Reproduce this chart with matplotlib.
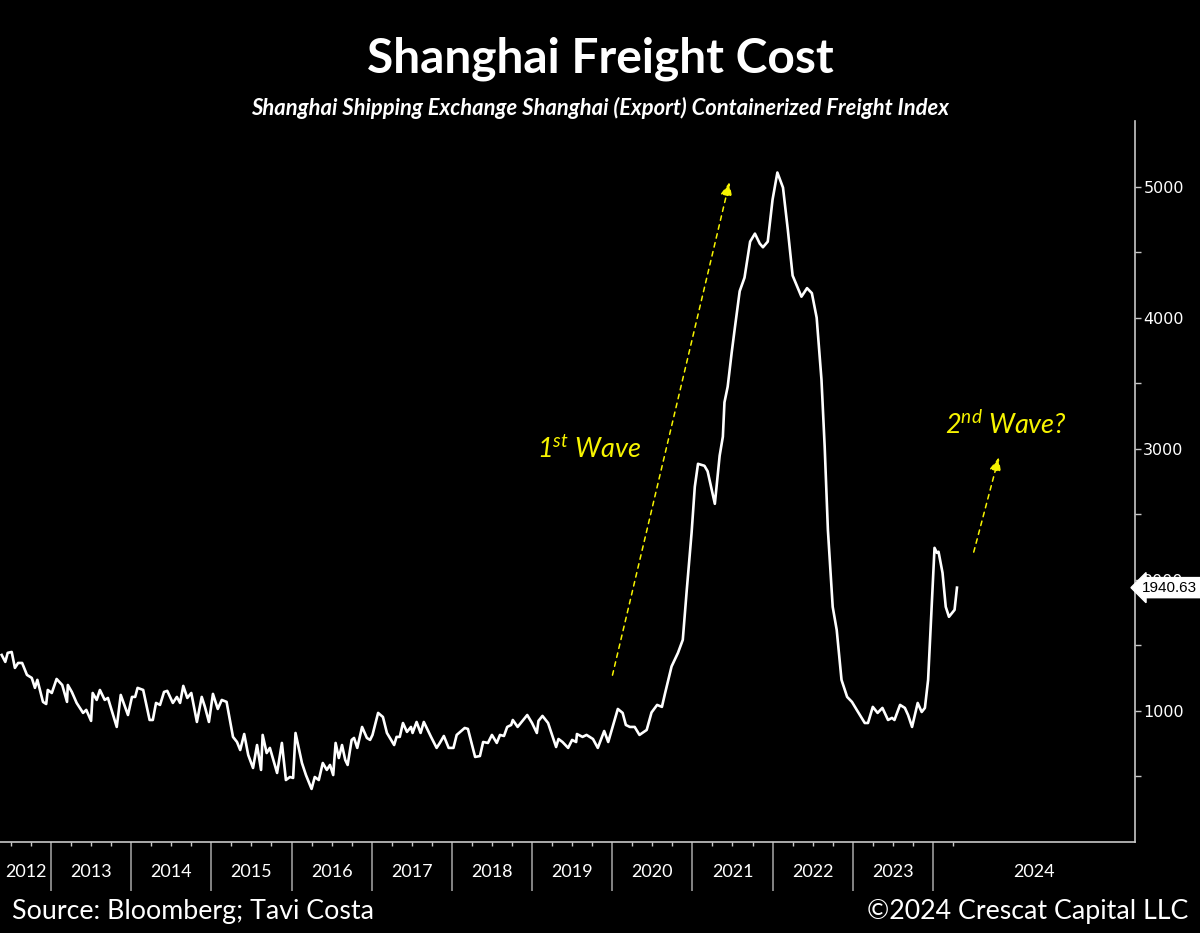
import matplotlib
matplotlib.use("Agg")
import matplotlib.pyplot as plt
import matplotlib.transforms as mtransforms
import numpy as np

# ---- data (decimal year, index value) ----
years = [2012.385, 2012.43, 2012.46, 2012.51, 2012.55, 2012.59, 2012.64, 2012.70, 2012.76, 2012.80,
         2012.83, 2012.90, 2012.94, 2012.96, 2013.01, 2013.07, 2013.14, 2013.20, 2013.21, 2013.26,
         2013.32, 2013.40, 2013.44, 2013.50, 2013.52, 2013.57, 2013.61, 2013.67, 2013.71, 2013.82,
         2013.87, 2013.96, 2014.01, 2014.05, 2014.08, 2014.15, 2014.23, 2014.27, 2014.31, 2014.36,
         2014.41, 2014.45, 2014.52, 2014.57, 2014.61, 2014.65, 2014.70, 2014.75, 2014.82, 2014.88,
         2014.92, 2014.97, 2015.02, 2015.08, 2015.13, 2015.19, 2015.27, 2015.32, 2015.36, 2015.41,
         2015.46, 2015.52, 2015.57, 2015.62, 2015.64, 2015.69, 2015.73, 2015.82, 2015.88, 2015.93,
         2015.98, 2016.02, 2016.05, 2016.13, 2016.18, 2016.25, 2016.29, 2016.34, 2016.39, 2016.44,
         2016.48, 2016.52, 2016.55, 2016.59, 2016.63, 2016.67, 2016.70, 2016.75, 2016.78, 2016.82,
         2016.88, 2016.94, 2016.98, 2017.01, 2017.08, 2017.14, 2017.19, 2017.28, 2017.31, 2017.35,
         2017.39, 2017.44, 2017.49, 2017.51, 2017.56, 2017.61, 2017.65, 2017.74, 2017.81, 2017.85,
         2017.90, 2017.96, 2018.02, 2018.06, 2018.16, 2018.20, 2018.29, 2018.35, 2018.39, 2018.45,
         2018.50, 2018.56, 2018.60, 2018.65, 2018.69, 2018.74, 2018.76, 2018.82, 2018.94, 2019.00,
         2019.06, 2019.08, 2019.13, 2019.20, 2019.30, 2019.33, 2019.38, 2019.45, 2019.50, 2019.55,
         2019.56, 2019.63, 2019.68, 2019.76, 2019.82, 2019.90, 2019.95, 2020.07, 2020.13, 2020.17,
         2020.22, 2020.28, 2020.34, 2020.43, 2020.49, 2020.56, 2020.62, 2020.66, 2020.74, 2020.82,
         2020.88, 2020.93, 2020.99, 2021.03, 2021.07, 2021.15, 2021.19, 2021.28, 2021.34, 2021.38,
         2021.40, 2021.44, 2021.49, 2021.53, 2021.59, 2021.65, 2021.72, 2021.78, 2021.84, 2021.88,
         2021.94, 2022.00, 2022.06, 2022.13, 2022.19, 2022.25, 2022.36, 2022.43, 2022.49, 2022.55,
         2022.61, 2022.65, 2022.69, 2022.75, 2022.80, 2022.86, 2022.93, 2022.99, 2023.05, 2023.15,
         2023.19, 2023.25, 2023.31, 2023.37, 2023.44, 2023.49, 2023.52, 2023.59, 2023.65, 2023.69,
         2023.74, 2023.81, 2023.86, 2023.90, 2023.94, 2023.98, 2024.02, 2024.05, 2024.07, 2024.12,
         2024.16, 2024.20, 2024.27, 2024.30]
values = [1427, 1374, 1443, 1450, 1328, 1366, 1366, 1275, 1252, 1176,
          1237, 1069, 1053, 1160, 1137, 1244, 1198, 1069, 1198, 1145,
          1061, 985, 1008, 924, 1137, 1084, 1160, 1084, 1099, 878,
          1122, 969, 1107, 1107, 1176, 1160, 931, 931, 1061, 1046,
          1145, 1153, 1061, 1107, 1061, 1191, 1099, 1137, 916, 1107,
          1031, 916, 1130, 1015, 1084, 1069, 802, 763, 702, 824,
          664, 565, 740, 550, 817, 679, 718, 527, 756, 473,
          496, 489, 832, 603, 511, 405, 496, 473, 603, 550,
          588, 511, 756, 641, 740, 626, 588, 779, 794, 718,
          878, 794, 779, 817, 985, 954, 832, 740, 802, 802,
          908, 840, 878, 832, 916, 832, 916, 802, 718, 756,
          809, 718, 718, 817, 870, 863, 649, 656, 763, 756,
          817, 756, 817, 809, 878, 893, 931, 878, 969, 908,
          832, 924, 962, 908, 725, 786, 763, 718, 779, 763,
          824, 802, 817, 786, 718, 847, 763, 1015, 985, 893,
          878, 878, 817, 855, 988, 1046, 1031, 1137, 1339, 1443,
          1542, 1924, 2359, 2710, 2885, 2870, 2828, 2580, 2947, 3092,
          3354, 3473, 3733, 3924, 4202, 4305, 4580, 4641, 4565, 4537,
          4580, 4901, 5107, 4992, 4672, 4321, 4160, 4225, 4187, 4000,
          3527, 3015, 2382, 1794, 1618, 1237, 1107, 1069, 1008, 908,
          908, 1031, 985, 1023, 931, 947, 931, 1046, 1023, 969,
          878, 1061, 992, 1023, 1237, 1748, 2244, 2206, 2214, 2053,
          1794, 1718, 1771, 1940.63]

year_labels = ["2012", "2013", "2014", "2015", "2016", "2017", "2018",
               "2019", "2020", "2021", "2022", "2023", "2024"]
y_ticks = [1000, 2000, 3000, 4000, 5000]
last_value = 1940.63

title = "Shanghai Freight Cost"
subtitle = "Shanghai Shipping Exchange Shanghai (Export) Containerized Freight Index"
source = "Source: Bloomberg; Tavi Costa"
copyright_txt = "\u00a92024 Crescat Capital LLC"

# ---- style ----
plt.rcParams['mathtext.fontset'] = 'custom'
plt.rcParams['mathtext.it'] = 'Lato:italic'
plt.rcParams['mathtext.rm'] = 'Lato:italic'

BG = "black"
AX_COL = "#c8c8c8"
YEL = "#f7f400"

fig = plt.figure(figsize=(12, 9.33), dpi=100, facecolor=BG)
ax = fig.add_axes([0.0, 0.0975, 0.9458, 0.7728], facecolor=BG)

xmin, xmax = 2012.364, 2026.52
ax.plot(years, values, color="white", lw=1.9, solid_joinstyle="round", zorder=3)
ax.set_xlim(xmin, xmax)
ax.set_ylim(0, 5500)

for s in ["top", "left"]:
    ax.spines[s].set_visible(False)
for s in ["right", "bottom"]:
    ax.spines[s].set_color(AX_COL)
    ax.spines[s].set_linewidth(1.2)

# y axis on the right
ax.yaxis.tick_right()
ax.set_yticks(y_ticks)
ax.set_yticks([500, 1500, 2500, 3500, 4500], minor=True)
ax.tick_params(axis="y", which="both", direction="out", colors=AX_COL, length=4, width=1,
               labelsize=11.5, labelcolor="white", pad=2)

# x axis: year separators as long major ticks, quarter minor ticks
year_starts = [int(y) + 1 for y in year_labels[:-1]]
ax.set_xticks(year_starts)
ax.set_xticklabels([])
quarters = [q for y in range(2012, 2025) for q in (y + 0.25, y + 0.5, y + 0.75)
            if xmin < q < 2024.5]
ax.set_xticks(quarters, minor=True)
ax.tick_params(axis="x", which="major", direction="out", colors="#9a9a9a", length=35, width=1.2)
ax.tick_params(axis="x", which="minor", direction="out", colors=AX_COL, length=3, width=1)

# year labels centred on the visible part of each year
trans = mtransforms.blended_transform_factory(ax.transData, ax.transAxes)
for lab in year_labels:
    y0 = max(int(lab), xmin)
    y1 = min(int(lab) + 1, xmax) if lab != "2024" else xmax
    ax.text((y0 + y1) / 2, -0.042, lab, transform=trans, ha="center", va="center",
            color="white", fontsize=13, family="Lato")

# last value label
ax.annotate(f"{last_value:.2f}", xy=(1, last_value),
            xycoords=mtransforms.blended_transform_factory(ax.transAxes, ax.transData),
            xytext=(5, 0), textcoords="offset points", ha="left", va="center",
            fontsize=11, family="Liberation Sans", color="black", zorder=5,
            annotation_clip=False,
            bbox=dict(boxstyle="larrow,pad=0.2", fc="white", ec="white"))

# annotations
ax.annotate("", xy=(2021.47, 5053), xytext=(2019.995, 1252),
            arrowprops=dict(arrowstyle="-|>,head_length=0.8,head_width=0.35", color=YEL,
                            lw=1.1, linestyle=(0, (3, 3))), zorder=4)
ax.annotate("", xy=(2024.83, 2954), xytext=(2024.50, 2191),
            arrowprops=dict(arrowstyle="-|>,head_length=0.8,head_width=0.35", color=YEL,
                            lw=1.1, linestyle=(0, (3, 3))), zorder=4)
ax.text(2019.06, 2992, r"1$^{st}$ Wave", color=YEL, fontsize=19.5, style="italic",
        family="Lato", ha="left", va="center")
ax.text(2024.15, 3183, r"2$^{nd}$ Wave?", color=YEL, fontsize=19.5, style="italic",
        family="Lato", ha="left", va="center")

# titles and footers
fig.text(0.5, 0.9365, title, ha="center", va="center", color="white",
         fontsize=34.5, fontweight="bold", family="Lato")
fig.text(0.5, 0.884, subtitle, ha="center", va="center", color="white",
         fontsize=15.8, fontweight="bold", style="italic", family="Lato")
fig.text(0.01, 0.015, source, ha="left", va="baseline", color="white",
         fontsize=19.3, family="Lato")
fig.text(0.99, 0.015, copyright_txt, ha="right", va="baseline", color="white",
         fontsize=19.3, family="Lato")

fig.savefig("out.png", dpi=100, facecolor=BG)
